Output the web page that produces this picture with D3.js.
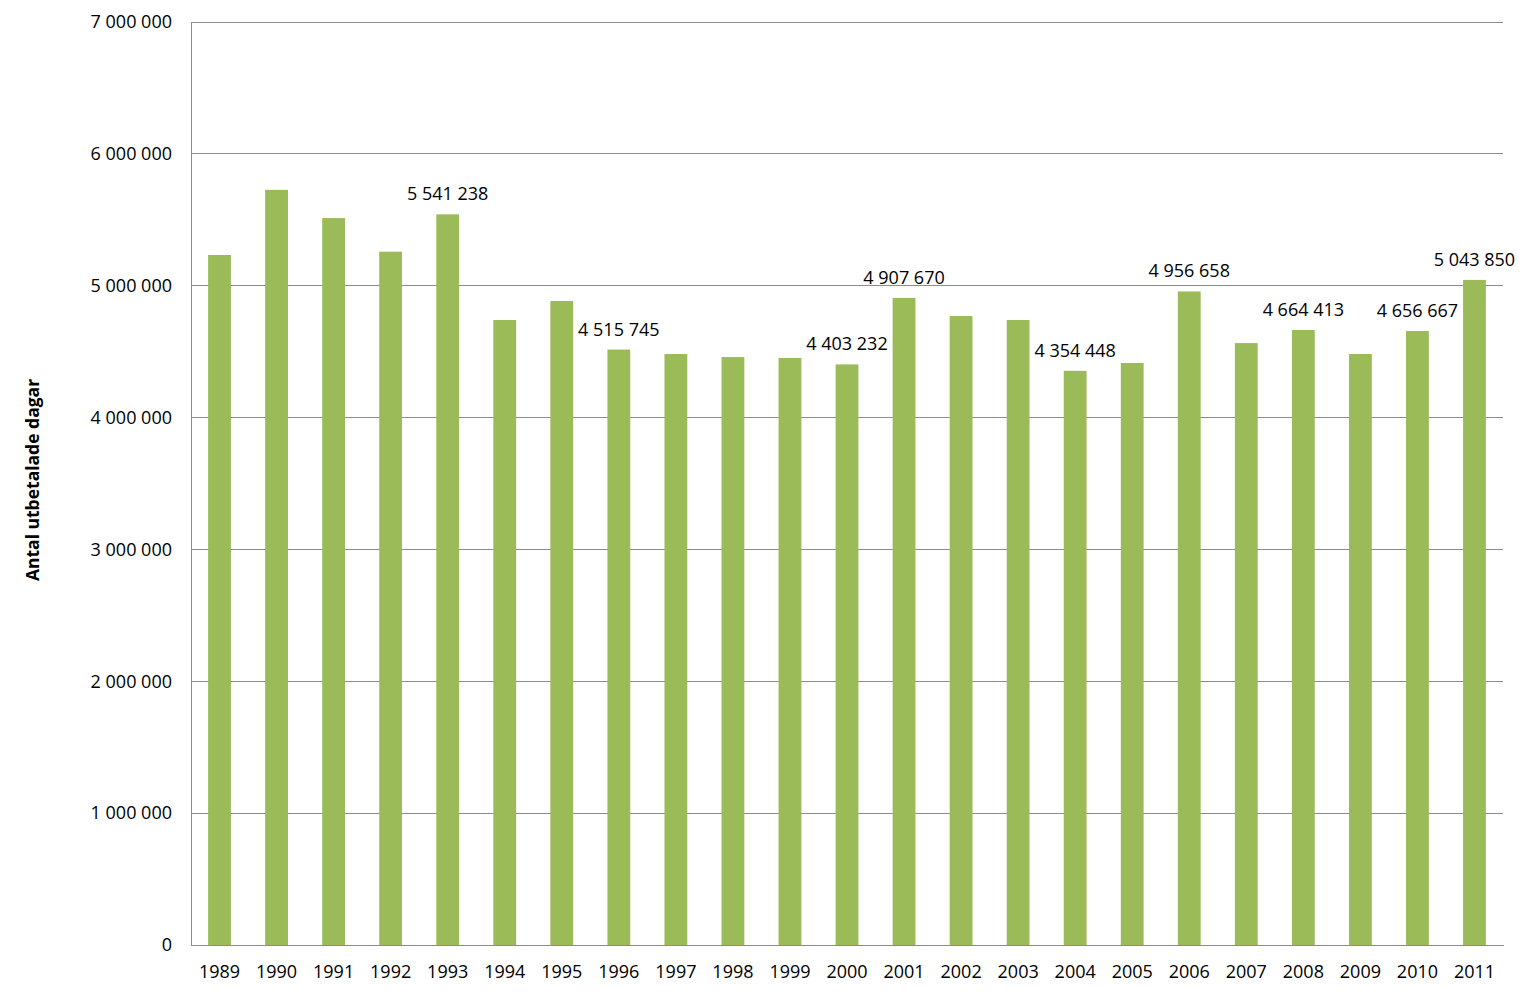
<!DOCTYPE html>
<html><head><meta charset="utf-8">
<script src="https://cdn.jsdelivr.net/npm/d3@7"></script>
<style>body{margin:0;background:#fff;} text{font-family:"Open Sans","Liberation Sans",sans-serif;}</style>
</head><body>
<svg id="c" width="1527" height="998"></svg>
<script>
const years = ["1989","1990","1991","1992","1993","1994","1995","1996","1997","1998","1999","2000","2001","2002","2003","2004","2005","2006","2007","2008","2009","2010","2011"];
const values = [5233000,5727000,5513000,5258000,5541238,4740000,4884000,4515745,4482000,4459000,4452000,4403232,4907670,4770000,4740000,4354448,4414000,4956658,4565000,4664413,4482000,4656667,5043850];
const labeled = ["1993","1996","2000","2001","2004","2006","2008","2010","2011"];
const yTicks = [0,1000000,2000000,3000000,4000000,5000000,6000000,7000000];
const yTitle = "Antal utbetalade dagar";

const svg = d3.select("#c");
const L=191, R=1503, T=22, B=945;
const x = d3.scaleBand().domain(years).range([L,R]).paddingInner(0.6).paddingOuter(0.3);
const y = d3.scaleLinear().domain([0,7000000]).range([B,T]);
const fmt = v => d3.format(",")(v).replace(/,/g," ");

svg.append("g").selectAll("line").data(yTicks.filter(d=>d>0)).join("line")
  .attr("x1",L).attr("x2",R).attr("y1",d=>y(d)).attr("y2",d=>y(d))
  .attr("stroke","#8c8c8c").attr("stroke-width",1).attr("shape-rendering","crispEdges");

const ya = svg.append("g").attr("transform",`translate(${L},0)`)
  .call(d3.axisLeft(y).tickValues(yTicks).tickFormat(fmt).tickSize(0).tickPadding(19));
ya.select(".domain").attr("stroke","#8c8c8c").attr("shape-rendering","crispEdges");
ya.selectAll("text").attr("font-size",18).attr("fill","#000").attr("font-family","'Open Sans',sans-serif");

svg.append("g").selectAll("rect").data(years).join("rect")
  .attr("x",d=>x(d)).attr("width",x.bandwidth())
  .attr("y",(d,i)=>y(values[i])).attr("height",(d,i)=>B-y(values[i]))
  .attr("fill","#9bbb59");

const xa = svg.append("g").attr("transform",`translate(0,${B})`)
  .call(d3.axisBottom(x).tickSize(0).tickPadding(20));
xa.select(".domain").attr("stroke","#8c8c8c").attr("shape-rendering","crispEdges");
xa.selectAll("text").attr("font-size",18).attr("fill","#000").attr("font-family","'Open Sans',sans-serif");

svg.append("g").selectAll("text").data(years.filter(d=>labeled.includes(d))).join("text")
  .attr("x",d=>x(d)+x.bandwidth()/2)
  .attr("y",d=>y(values[years.indexOf(d)])-14)
  .attr("text-anchor","middle").attr("font-size",18).attr("fill","#000")
  .text(d=>fmt(values[years.indexOf(d)]));

svg.append("text").attr("transform","translate(39,480) rotate(-90)")
  .attr("text-anchor","middle").attr("font-size",17.5).attr("font-weight","bold").attr("fill","#000")
  .text(yTitle);
</script>
</body></html>
